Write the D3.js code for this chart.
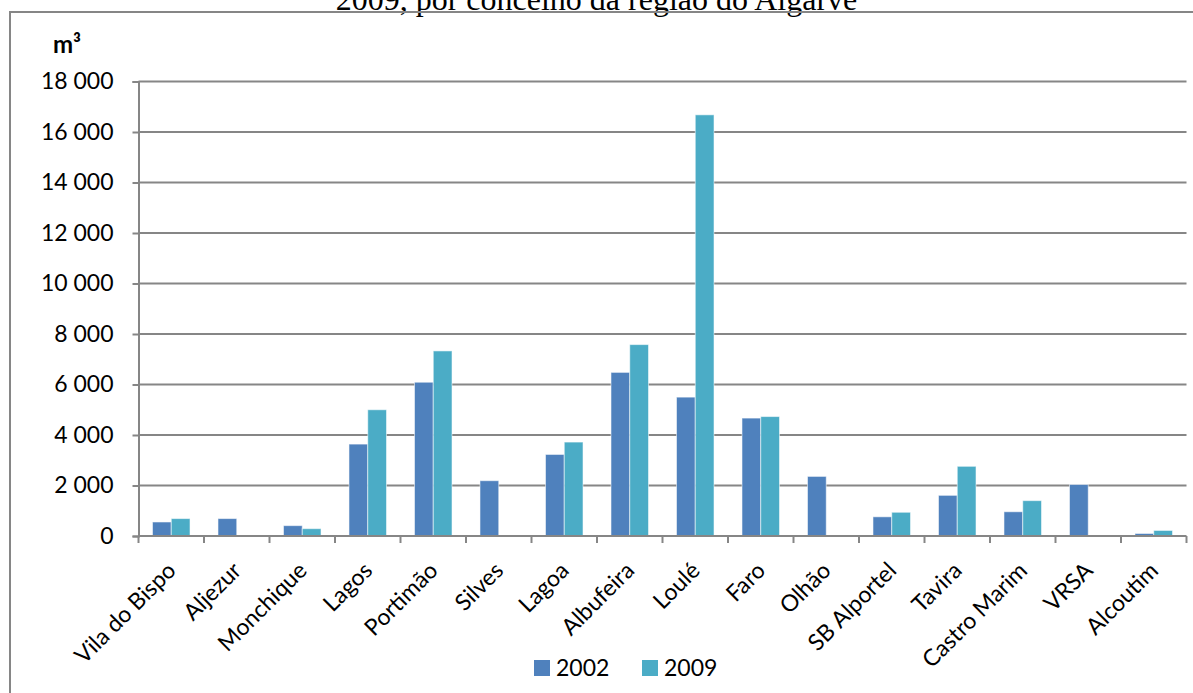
<!DOCTYPE html>
<html>
<head>
<meta charset="utf-8">
<script src="https://cdn.jsdelivr.net/npm/d3@7"></script>
<style>
  html, body { margin: 0; padding: 0; background: #fff; }
  svg { display: block; }
</style>
</head>
<body>
<svg id="chart" width="1193" height="693"></svg>
<script>
// Concelhos do Algarve
const concelhos = ["Vila do Bispo", "Aljezur", "Monchique", "Lagos", "Portimão", "Silves",
  "Lagoa", "Albufeira", "Loulé", "Faro", "Olhão", "SB Alportel", "Tavira",
  "Castro Marim", "VRSA", "Alcoutim"];

// Volumes (m³) por ano; null = sem valor
const valores2002 = [555, 690, 410, 3640, 6090, 2190, 3230, 6480, 5500, 4670, 2360, 760, 1610, 960, 2040, 100];
const valores2009 = [690, null, 290, 5000, 7330, null, 3720, 7580, 16680, 4730, null, 940, 2760, 1400, null, 220];

const anos = ["2002", "2009"];
const coresAno = ["#4F81BD", "#4BACC6"];
const yTicks = [0, 2000, 4000, 6000, 8000, 10000, 12000, 14000, 16000, 18000];

const svg = d3.select("#chart");
const W = 1193, H = 693;
const plot = { left: 138.5, right: 1186.5, top: 81.5, bottom: 536 };
const gridColor = "#868686";
const labelFont = "Lato, 'Open Sans', sans-serif";

// Título (a parte superior fica fora da área visível)
svg.append("text")
  .attr("x", W / 2).attr("y", 9.5)
  .attr("text-anchor", "middle")
  .attr("font-family", "'Liberation Serif', 'Times New Roman', serif")
  .attr("font-size", 32)
  .attr("fill", "#000")
  .text("2009, por concelho da região do Algarve");

// Moldura do gráfico
svg.append("path")
  .attr("d", `M10,${H + 5} V12 H${W + 5}`)
  .attr("fill", "none")
  .attr("stroke", gridColor)
  .attr("stroke-width", 2);

const x0 = d3.scaleBand().domain(concelhos).range([plot.left, plot.right]).padding(0);
const groupW = x0.bandwidth() * 0.573;
const x1 = d3.scaleBand().domain(anos).range([0, groupW]).padding(0);
const y = d3.scaleLinear().domain([0, 18000]).range([plot.bottom, plot.top]);

// Linhas de grelha
svg.append("g").selectAll("line")
  .data(yTicks.filter(t => t > 0))
  .join("line")
  .attr("x1", plot.left).attr("x2", plot.right)
  .attr("y1", d => y(d)).attr("y2", d => y(d))
  .attr("stroke", gridColor).attr("stroke-width", 2);

// Eixo Y
const yAxis = d3.axisLeft(y).tickValues(yTicks).tickSize(6).tickPadding(19)
  .tickFormat(d => d3.format(",")(d).replace(/,/g, " "));
const gy = svg.append("g").attr("transform", `translate(${plot.left},0)`).call(yAxis);
gy.select(".domain").attr("stroke", gridColor).attr("stroke-width", 2);
gy.selectAll(".tick line").attr("stroke", gridColor).attr("stroke-width", 2);
gy.selectAll(".tick text")
  .attr("font-family", labelFont).attr("font-size", 23).attr("fill", "#000");

// Unidade
svg.append("text")
  .attr("x", 53).attr("y", 53)
  .attr("font-family", labelFont).attr("font-size", 24).attr("font-weight", "bold")
  .attr("fill", "#000")
  .text("m³");

// Barras
const linhas = concelhos.map((c, i) => ({ c, v: [valores2002[i], valores2009[i]] }));
const grupos = svg.append("g").selectAll("g")
  .data(linhas)
  .join("g")
  .attr("transform", d => `translate(${x0(d.c) + (x0.bandwidth() - groupW) / 2},0)`);
grupos.selectAll("rect")
  .data(d => d.v.map((v, k) => ({ ano: anos[k], v, k })).filter(e => e.v != null))
  .join("rect")
  .attr("x", e => x1(e.ano))
  .attr("width", x1.bandwidth())
  .attr("y", e => y(e.v))
  .attr("height", e => y(0) - y(e.v))
  .attr("fill", e => coresAno[e.k])
  .attr("stroke", "rgba(255,255,255,0.55)")
  .attr("stroke-width", 1);

// Eixo X com marcas nos limites das categorias
const gx = svg.append("g");
gx.append("line")
  .attr("x1", plot.left).attr("x2", plot.right)
  .attr("y1", plot.bottom).attr("y2", plot.bottom)
  .attr("stroke", gridColor).attr("stroke-width", 2);
const limites = concelhos.map(c => x0(c)).concat([plot.right]);
gx.selectAll("line.tick")
  .data(limites)
  .join("line")
  .attr("class", "tick")
  .attr("x1", d => d).attr("x2", d => d)
  .attr("y1", plot.bottom).attr("y2", plot.bottom + 7)
  .attr("stroke", gridColor).attr("stroke-width", 2);

gx.selectAll("text")
  .data(concelhos)
  .join("text")
  .attr("transform", d => `translate(${x0(d) + x0.bandwidth() / 2 + 6},${plot.bottom + 36}) rotate(-45)`)
  .attr("text-anchor", "end")
  .attr("font-family", labelFont).attr("font-size", 23).attr("fill", "#000")
  .text(d => d);

// Legenda
const legenda = svg.append("g");
const posLeg = [534, 642];
anos.forEach((a, k) => {
  legenda.append("rect")
    .attr("x", posLeg[k]).attr("y", 660)
    .attr("width", 16).attr("height", 16)
    .attr("fill", coresAno[k]);
  legenda.append("text")
    .attr("x", posLeg[k] + 22).attr("y", 676)
    .attr("font-family", labelFont).attr("font-size", 23).attr("fill", "#000")
    .text(a);
});
</script>
</body>
</html>
